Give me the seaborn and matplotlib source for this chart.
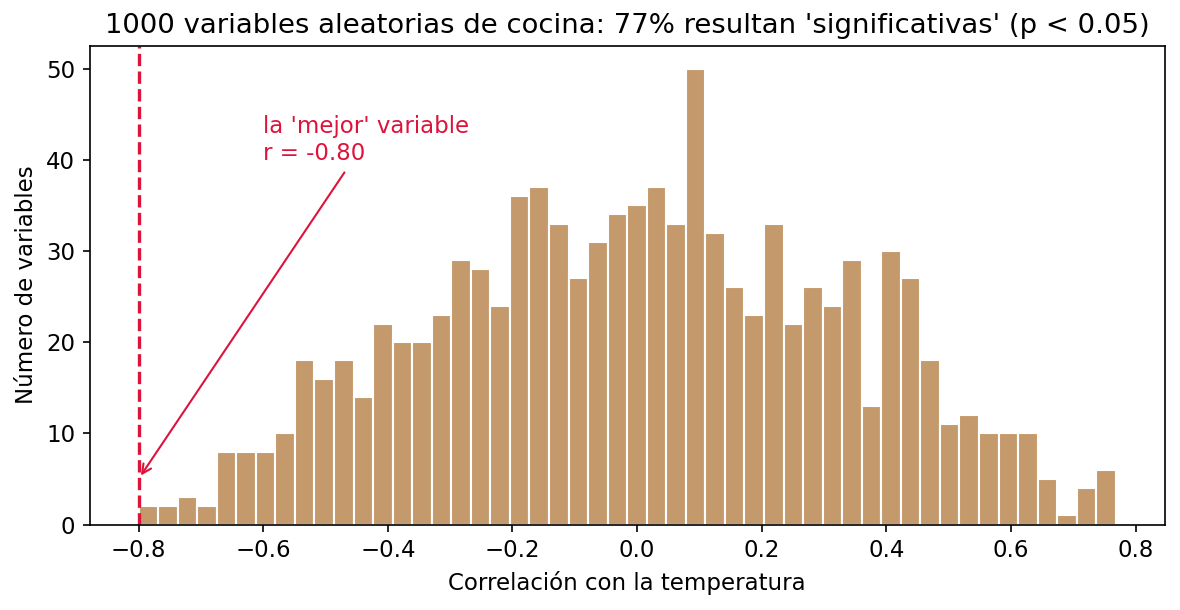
import numpy as np
import pandas as pd
import matplotlib
matplotlib.use("Agg")
import matplotlib.pyplot as plt
import seaborn as sns

# datos del histograma
r_min = -0.80
r_max = 0.768
conteos = [2, 2, 3, 2, 8, 8, 8, 10, 18, 16, 18, 14, 22, 20, 20, 23, 29, 28, 24, 36,
           37, 33, 27, 31, 34, 35, 37, 33, 50, 32, 26, 23, 33, 22, 26, 24, 29, 13, 30, 27,
           18, 11, 12, 10, 10, 10, 5, 1, 4, 6]
mejor_r = -0.80
porcentaje_signif = 77

bordes = np.linspace(r_min, r_max, len(conteos) + 1)
centros = (bordes[:-1] + bordes[1:]) / 2
df = pd.DataFrame({"r": centros, "n": conteos})

plt.rcParams["font.family"] = ["DejaVu Sans"]

fig, ax = plt.subplots(figsize=(1180 / 150, 610 / 150), dpi=150)
sns.histplot(data=df, x="r", weights="n", bins=bordes.tolist(), color="#c49a6c", alpha=1,
             edgecolor="white", linewidth=1, ax=ax)

ax.axvline(mejor_r, color="crimson", linestyle="--", linewidth=1.6)
ax.annotate(f"la 'mejor' variable\nr = {mejor_r:.2f}", xy=(mejor_r, 5), xytext=(-0.6, 40),
            color="crimson", fontsize=11,
            arrowprops=dict(arrowstyle="->", color="crimson", lw=1))

ax.set_title(f"1000 variables aleatorias de cocina: {porcentaje_signif}% resultan 'significativas' (p < 0.05)",
             fontsize=13.2)
ax.set_xlabel("Correlación con la temperatura", fontsize=11)
ax.set_ylabel("Número de variables", fontsize=11)
ax.tick_params(labelsize=11)

fig.subplots_adjust(left=0.076, right=0.987, top=0.925, bottom=0.14)
fig.savefig("out.png", dpi=150)
